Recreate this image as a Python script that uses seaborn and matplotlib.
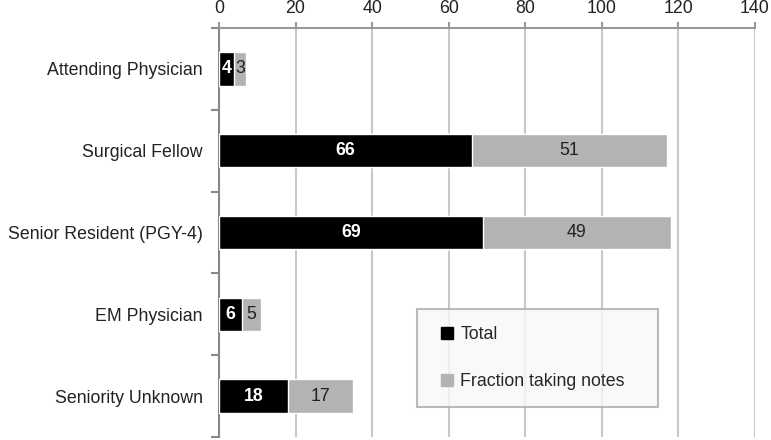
import numpy as np
import pandas as pd
import seaborn as sns
import matplotlib.pyplot as plt
from matplotlib.lines import Line2D

# data
categories = ['Attending Physician', 'Surgical Fellow', 'Senior Resident (PGY-4)',
              'EM Physician', 'Seniority Unknown']
total = [4, 66, 69, 6, 18]
fraction_notes = [3, 51, 49, 5, 17]
x_ticks = [0, 20, 40, 60, 80, 100, 120, 140]

BLACK = '#000000'
GRAY = '#b3b3b3'
FS = 12.8

sns.set_style('white')
plt.rcParams['font.family'] = ['Liberation Sans', 'DejaVu Sans']

df = pd.DataFrame({'category': categories, 'total': total, 'notes': fraction_notes})
df['stacked'] = df['total'] + df['notes']

fig = plt.figure(figsize=(7.71, 4.40), dpi=100)
ax = fig.add_axes([0.284, 0.0068, 0.695, 0.9295])

# gray (stacked) first, black total drawn on top
sns.barplot(data=df, x='stacked', y='category', color=GRAY, width=0.41,
            saturation=1, orient='h', ax=ax, zorder=3)
sns.barplot(data=df, x='total', y='category', color=BLACK, width=0.41,
            saturation=1, orient='h', ax=ax, zorder=4)

for i, (t, n) in enumerate(zip(df['total'], df['notes'])):
    ax.text(t / 2, i, str(t), color='white', fontweight='bold', fontsize=FS,
            ha='center', va='center', zorder=5)
    ax.text(t + n / 2, i, str(n), color='#222222', fontsize=FS,
            ha='center', va='center', zorder=5)

ax.set_xlim(0, 140)
ax.set_xticks(x_ticks)
ax.xaxis.tick_top()
ax.tick_params(axis='x', length=4, width=1.5, color='#999999', labelsize=FS,
               pad=4, labelcolor='#222222')
ax.set_xlabel('')
ax.set_ylabel('')
ax.grid(axis='x', color='#c8c8c8', linewidth=1.5, zorder=0)
ax.set_axisbelow(True)

# category ticks sit between groups on the left spine
ax.set_yticks(np.arange(-0.5, len(categories) + 0.5), minor=True)
ax.tick_params(axis='y', which='minor', length=6, width=1.5, color='#888888', left=True)
ax.tick_params(axis='y', which='major', length=0, labelsize=FS, pad=11.5, labelcolor='#222222')
ax.set_ylim(len(categories) - 0.5, -0.5)

for side in ['right', 'bottom']:
    ax.spines[side].set_visible(False)
ax.spines['top'].set_color('#999999')
ax.spines['top'].set_linewidth(1.5)
ax.spines['left'].set_color('#888888')
ax.spines['left'].set_linewidth(1.5)

handles = [Line2D([], [], marker='s', linestyle='none', color=BLACK, markersize=9),
           Line2D([], [], marker='s', linestyle='none', color=GRAY, markersize=9)]
leg = ax.legend(handles, ['Total', 'Fraction taking notes'], loc='lower left',
                bbox_to_anchor=(0.369, 0.073, 0.451, 0.229), mode='expand',
                borderaxespad=0, fontsize=FS, frameon=True, fancybox=False,
                borderpad=0.95, labelspacing=1.7, handlelength=1.5, handletextpad=0.0)
leg.get_frame().set_facecolor('#f8f8f8')
leg.get_frame().set_edgecolor('#aaaaaa')
leg.get_frame().set_linewidth(1.5)
leg.set_zorder(6)

fig.savefig('out.png', dpi=100)
